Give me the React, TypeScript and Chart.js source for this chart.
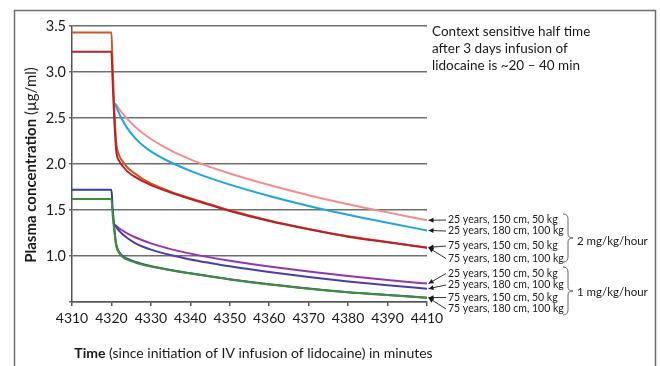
import React, { useEffect, useRef } from 'react';
import { Chart, registerables } from 'chart.js';
Chart.register(...registerables);

// ---------- data ----------
const xTickLabels = ['4310', '4320', '4330', '4340', '4350', '4360', '4370', '4380', '4390', '4410'];

// 75-year-old curves (steady state before 4320, then decline)
const times75 = [4310, 4320, 4320.3, 4320.7, 4321.2, 4322, 4323, 4324, 4326, 4328, 4330, 4335, 4340, 4345, 4350, 4360, 4370, 4380, 4390, 4400];
const brown2mg = [3.43, 3.43, 3.05, 2.62, 2.24, 2.09, 2.02, 1.965, 1.895, 1.835, 1.788, 1.7, 1.628, 1.562, 1.497, 1.386, 1.294, 1.214, 1.152, 1.093];
const red2mg = [3.22, 3.22, 2.9, 2.5, 2.15, 2.03, 1.97, 1.92, 1.86, 1.81, 1.77, 1.69, 1.62, 1.555, 1.49, 1.38, 1.29, 1.21, 1.15, 1.09];
const blue1mg = [1.72, 1.72, 1.52, 1.32, 1.13, 1.04, 0.995, 0.97, 0.937, 0.91, 0.89, 0.848, 0.812, 0.78, 0.747, 0.692, 0.647, 0.607, 0.577, 0.547];
const green1mg = [1.62, 1.62, 1.45, 1.28, 1.11, 1.03, 0.985, 0.96, 0.93, 0.905, 0.885, 0.845, 0.81, 0.778, 0.745, 0.69, 0.645, 0.605, 0.575, 0.545];

// 25-year-old curves (after end of infusion)
const times25 = [4320.9, 4321.5, 4322.5, 4324, 4326, 4328, 4330, 4335, 4340, 4345, 4350, 4360, 4370, 4380, 4390, 4400];
const pink2mg = [2.66, 2.623, 2.566, 2.491, 2.406, 2.334, 2.272, 2.148, 2.051, 1.969, 1.897, 1.771, 1.661, 1.563, 1.474, 1.388];
const cyan2mg = [2.66, 2.594, 2.5, 2.39, 2.282, 2.201, 2.138, 2.019, 1.926, 1.847, 1.776, 1.652, 1.544, 1.448, 1.361, 1.278];
const purple1mg = [1.34, 1.315, 1.285, 1.247, 1.204, 1.168, 1.137, 1.075, 1.026, 0.985, 0.949, 0.886, 0.831, 0.782, 0.738, 0.70];
const indigo1mg = [1.34, 1.297, 1.25, 1.195, 1.141, 1.101, 1.069, 1.01, 0.963, 0.924, 0.888, 0.826, 0.772, 0.724, 0.681, 0.645];

const patientLabels = ['25 years, 150 cm, 50 kg', '25 years, 180 cm, 100 kg', '75 years, 150 cm, 50 kg', '75 years, 180 cm, 100 kg'];
const doseLabels = ['2 mg/kg/hour', '1 mg/kg/hour'];
const noteLines = ['Context sensitive half time', 'after 3 days infusion of', 'lidocaine is ~20 – 40 min'];
const yTitleParts: [string, boolean][] = [['Plasma concentration', true], [' (µg/ml)', false]];
const xTitleParts: [string, boolean][] = [['Time', true], [' (since initiation of IV infusion of lidocaine) in minutes', false]];

const FONT = 'Lato';

const pts = (t: number[], v: number[]) => t.map((x, i) => ({ x, y: v[i] }));

function drawRich(ctx: CanvasRenderingContext2D, parts: [string, boolean][], cx: number, cy: number, size: number) {
  let total = 0;
  const widths = parts.map(([s, b]) => {
    ctx.font = `${b ? 'bold ' : ''}${size}px ${FONT}`;
    const w = ctx.measureText(s).width;
    total += w;
    return w;
  });
  let x = cx - total / 2;
  ctx.textAlign = 'left';
  ctx.textBaseline = 'middle';
  parts.forEach(([s, b], i) => {
    ctx.font = `${b ? 'bold ' : ''}${size}px ${FONT}`;
    ctx.fillText(s, x, cy);
    x += widths[i];
  });
}

function brace(ctx: CanvasRenderingContext2D, x0: number, top: number, bottom: number) {
  const mid = (top + bottom) / 2;
  const w = 5;
  ctx.beginPath();
  ctx.moveTo(x0, top);
  ctx.quadraticCurveTo(x0 + w, top, x0 + w, top + 5);
  ctx.lineTo(x0 + w, mid - 4);
  ctx.quadraticCurveTo(x0 + w, mid, x0 + w + 5, mid);
  ctx.quadraticCurveTo(x0 + w, mid, x0 + w, mid + 4);
  ctx.lineTo(x0 + w, bottom - 5);
  ctx.quadraticCurveTo(x0 + w, bottom, x0, bottom);
  ctx.stroke();
}

function arrow(ctx: CanvasRenderingContext2D, fx: number, fy: number, tx: number, ty: number) {
  ctx.beginPath();
  ctx.moveTo(fx, fy);
  ctx.lineTo(tx, ty);
  ctx.stroke();
  const a = Math.atan2(ty - fy, tx - fx);
  const L = 5, W = 2.5;
  ctx.beginPath();
  ctx.moveTo(tx, ty);
  ctx.lineTo(tx - L * Math.cos(a) + W * Math.sin(a), ty - L * Math.sin(a) - W * Math.cos(a));
  ctx.lineTo(tx - L * Math.cos(a) - W * Math.sin(a), ty - L * Math.sin(a) + W * Math.cos(a));
  ctx.closePath();
  ctx.fill();
}

const annotPlugin = {
  id: 'annot',
  afterDraw(chart: any) {
    const ctx: CanvasRenderingContext2D = chart.ctx;
    const area = chart.chartArea;
    ctx.save();
    // frame
    ctx.strokeStyle = '#6e6e6e';
    ctx.lineWidth = 1.5;
    ctx.strokeRect(14.5, 10.5, 641, 420);

    ctx.fillStyle = '#1a1a1a';
    // axis titles
    drawRich(ctx, xTitleParts, (area.left + area.right) / 2 + 4, 353, 14);
    ctx.save();
    ctx.translate(31, 165);
    ctx.rotate(-Math.PI / 2);
    drawRich(ctx, yTitleParts, 0, 0, 15);
    ctx.restore();

    // note
    ctx.font = `13.5px ${FONT}`;
    ctx.textAlign = 'left';
    ctx.textBaseline = 'middle';
    const noteY = [32, 49, 66];
    noteLines.forEach((s, i) => ctx.fillText(s, 432, noteY[i]));

    // patient labels with arrows
    const labelY = [220, 231, 246, 258.5, 273.5, 285, 297.5, 309];
    // dataset index each label points to
    const target = [7, 6, 5, 4, 3, 2, 1, 0];
    ctx.font = `10.5px ${FONT}`;
    ctx.strokeStyle = '#333';
    ctx.fillStyle = '#1a1a1a';
    ctx.lineWidth = 1;
    labelY.forEach((y, i) => {
      const meta = chart.getDatasetMeta(target[i]);
      const p = meta.data[meta.data.length - 1];
      ctx.fillText(patientLabels[i % 4], 448, y);
      arrow(ctx, 446, y, p.x + 1.5, p.y);
    });

    // braces
    ctx.strokeStyle = '#666';
    ctx.lineWidth = 1;
    brace(ctx, 563, 214, 262);
    brace(ctx, 563, 267, 315);
    ctx.fillStyle = '#1a1a1a';
    ctx.font = `11.5px ${FONT}`;
    ctx.fillText(doseLabels[0], 577, 241);
    ctx.fillText(doseLabels[1], 577, 292);
    ctx.restore();
  },
};

export default function App() {
  const ref = useRef<HTMLCanvasElement>(null);
  useEffect(() => {
    Chart.defaults.font.family = FONT;
    const mk = (data: any, color: string) => ({
      data,
      borderColor: color,
      backgroundColor: color,
      borderWidth: 2,
      pointRadius: 0,
      fill: false,
      cubicInterpolationMode: 'monotone' as const,
    });
    const chart = new Chart(ref.current!, {
      type: 'line',
      data: {
        datasets: [
          mk(pts(times75, green1mg), '#3f8f3a'),
          mk(pts(times75, blue1mg), '#2f3ea3'),
          mk(pts(times25, indigo1mg), '#4d3ca8'),
          mk(pts(times25, purple1mg), '#9436aa'),
          mk(pts(times75, red2mg), '#b8222a'),
          mk(pts(times75, brown2mg), '#cc5a22'),
          mk(pts(times25, cyan2mg), '#1ea4de'),
          mk(pts(times25, pink2mg), '#f58d90'),
        ],
      },
      options: {
        animation: false,
        responsive: false,
        parsing: false as any,
        layout: { padding: { left: 22, top: 26, right: 233, bottom: 34 } },
        plugins: { legend: { display: false }, tooltip: { enabled: false } },
        scales: {
          x: {
            type: 'linear',
            min: 4310,
            max: 4400,
            afterFit: (s: any) => { s.height = 30; },
            ticks: {
              stepSize: 10,
              color: '#1a1a1a',
              font: { size: 14 },
              padding: 4,
              maxRotation: 0,
              callback: (_v: any, i: number) => xTickLabels[i],
            },
            grid: { drawOnChartArea: false, drawTicks: true, tickLength: 4, color: '#555', lineWidth: 1.5 },
            border: { color: '#555', width: 1.5 },
          },
          y: {
            type: 'linear',
            min: 0.5,
            max: 3.5,
            afterFit: (s: any) => { s.width = 50; },
            ticks: {
              stepSize: 0.5,
              color: '#1a1a1a',
              font: { size: 14.5 },
              padding: 3,
              callback: (v: any) => (Number(v) === 0.5 ? '' : Number(v).toFixed(1)),
            },
            grid: { color: '#6e6e6e', lineWidth: 1.5, tickLength: 3 },
            border: { color: '#555', width: 1.5 },
          },
        },
      },
      plugins: [annotPlugin],
    });
    return () => chart.destroy();
  }, []);
  return (
    <div style={{ position: 'fixed', left: 0, top: 0, width: 660, height: 366, background: '#fff' }}>
      <canvas ref={ref} width={660} height={366} style={{ width: 660, height: 366, display: 'block' }} />
    </div>
  );
}
